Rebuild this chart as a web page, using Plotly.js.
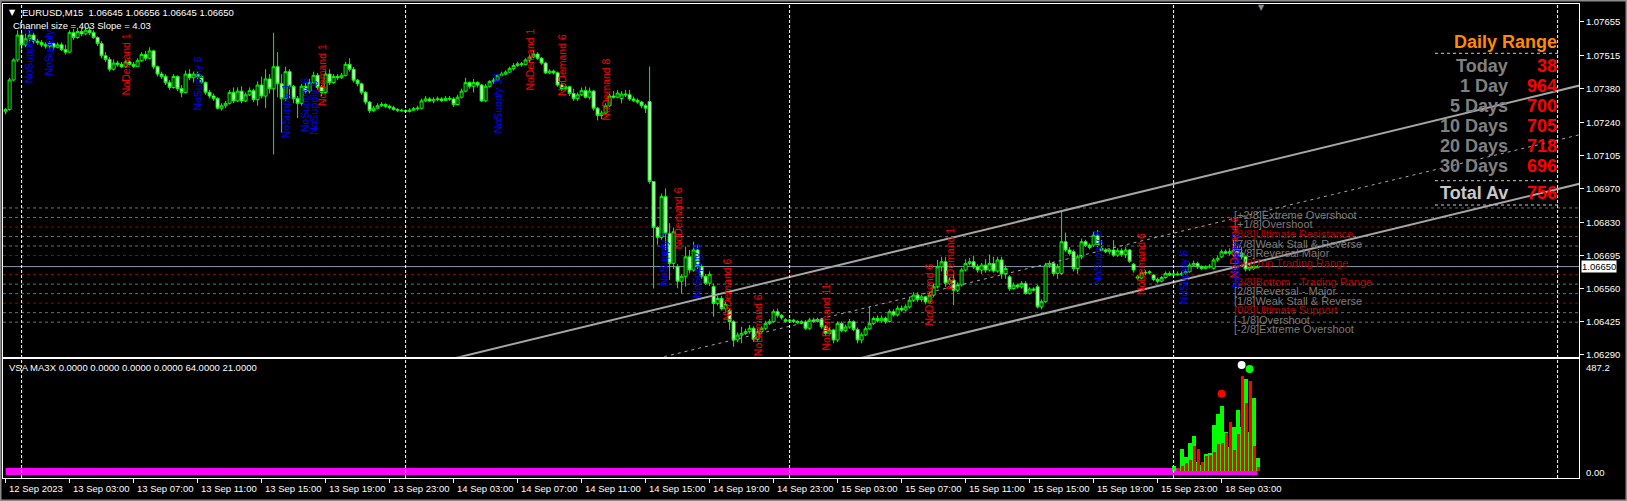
<!DOCTYPE html>
<html><head><meta charset="utf-8">
<script src="https://cdn.plot.ly/plotly-3.0.1.min.js"></script>
<style>html,body{margin:0;padding:0;background:#000;overflow:hidden}#chart{width:1627px;height:501px}</style>
</head><body><div id="chart"></div>
<script>
// ---------------- DATA ----------------
const symbolName = "EURUSD,M15";
const barOpen = [
1.07285,1.07295,1.07416,1.07498,1.07600,1.07560,1.07585,1.07600,1.07575,1.07570,
1.07560,1.07555,1.07565,1.07550,1.07560,1.07540,1.07530,1.07610,1.07590,1.07615,
1.07605,1.07620,1.07610,1.07590,1.07565,1.07515,1.07500,1.07460,1.07485,1.07480,
1.07470,1.07490,1.07480,1.07472,1.07495,1.07520,1.07505,1.07535,1.07470,1.07440,
1.07430,1.07405,1.07385,1.07430,1.07380,1.07365,1.07440,1.07425,1.07440,1.07430,
1.07405,1.07365,1.07350,1.07340,1.07300,1.07310,1.07320,1.07365,1.07330,1.07370,
1.07330,1.07355,1.07372,1.07335,1.07395,1.07350,1.07420,1.07380,1.07470,1.07400,
1.07340,1.07450,1.07390,1.07340,1.07320,1.07390,1.07370,1.07405,1.07435,1.07385,
1.07365,1.07440,1.07405,1.07430,1.07425,1.07435,1.07480,1.07460,1.07415,1.07400,
1.07365,1.07325,1.07290,1.07300,1.07310,1.07315,1.07308,1.07302,1.07295,1.07292,
1.07290,1.07287,1.07292,1.07298,1.07300,1.07330,1.07338,1.07330,1.07335,1.07338,
1.07332,1.07340,1.07338,1.07315,1.07345,1.07370,1.07405,1.07390,1.07405,1.07395,
1.07330,1.07390,1.07410,1.07415,1.07435,1.07440,1.07448,1.07462,1.07475,1.07482,
1.07480,1.07498,1.07510,1.07522,1.07505,1.07485,1.07445,1.07452,1.07445,1.07395,
1.07380,1.07388,1.07360,1.07340,1.07355,1.07372,1.07345,1.07370,1.07300,1.07270,
1.07280,1.07310,1.07350,1.07345,1.07340,1.07358,1.07355,1.07338,1.07332,1.07325,
1.07310,1.07327,1.06999,1.06810,1.06770,1.06937,1.06786,1.06663,1.06650,1.06590,
1.06610,1.06690,1.06636,1.06718,1.06650,1.06610,1.06582,1.06568,1.06499,1.06519,
1.06478,1.06471,1.06424,1.06349,1.06369,1.06376,1.06383,1.06397,1.06352,1.06383,
1.06397,1.06417,1.06424,1.06465,1.06450,1.06432,1.06426,1.06430,1.06425,1.06420,
1.06423,1.06397,1.06431,1.06425,1.06433,1.06404,1.06376,1.06390,1.06349,1.06417,
1.06388,1.06402,1.06424,1.06392,1.06349,1.06370,1.06395,1.06417,1.06437,1.06428,
1.06438,1.06425,1.06465,1.06452,1.06479,1.06472,1.06485,1.06512,1.06533,1.06515,
1.06526,1.06505,1.06533,1.06567,1.06649,1.06670,1.06581,1.06595,1.06553,1.06575,
1.06636,1.06663,1.06670,1.06649,1.06636,1.06656,1.06636,1.06663,1.06632,1.06677,
1.06620,1.06608,1.06560,1.06574,1.06567,1.06581,1.06540,1.06558,1.06567,1.06485,
1.06506,1.06656,1.06663,1.06622,1.06622,1.06752,1.06718,1.06711,1.06642,1.06690,
1.06752,1.06738,1.06738,1.06779,1.06725,1.06718,1.06711,1.06718,1.06697,1.06715,
1.06700,1.06718,1.06660,1.06608,1.06603,1.06625,1.06625,1.06615,1.06597,1.06590,
1.06605,1.06622,1.06615,1.06620,1.06617,1.06622,1.06629,1.06656,1.06663,1.06649,
1.06643,1.06649,1.06643,1.06677,1.06690,1.06711,1.06705,1.06697,1.06718,1.06706,
1.06690,1.06640,1.06650,1.06645];
const barHigh = [
1.07300,1.07425,1.07505,1.07620,1.07615,1.07605,1.07620,1.07610,1.07585,1.07580,
1.07570,1.07575,1.07570,1.07570,1.07570,1.07560,1.07620,1.07625,1.07630,1.07630,
1.07635,1.07635,1.07620,1.07595,1.07575,1.07530,1.07510,1.07500,1.07495,1.07490,
1.07500,1.07495,1.07490,1.07505,1.07530,1.07535,1.07550,1.07540,1.07475,1.07450,
1.07440,1.07415,1.07440,1.07435,1.07395,1.07455,1.07460,1.07450,1.07450,1.07440,
1.07410,1.07375,1.07360,1.07345,1.07320,1.07330,1.07375,1.07385,1.07385,1.07390,
1.07365,1.07385,1.07380,1.07410,1.07430,1.07460,1.07440,1.07610,1.07530,1.07440,
1.07470,1.07460,1.07395,1.07350,1.07400,1.07405,1.07420,1.07450,1.07445,1.07395,
1.07455,1.07460,1.07440,1.07440,1.07445,1.07490,1.07505,1.07470,1.07420,1.07405,
1.07370,1.07330,1.07310,1.07320,1.07325,1.07320,1.07315,1.07310,1.07300,1.07298,
1.07295,1.07300,1.07305,1.07310,1.07340,1.07350,1.07345,1.07345,1.07348,1.07345,
1.07350,1.07350,1.07345,1.07355,1.07380,1.07425,1.07410,1.07420,1.07410,1.07400,
1.07400,1.07415,1.07425,1.07440,1.07450,1.07455,1.07470,1.07485,1.07490,1.07490,
1.07505,1.07520,1.07535,1.07530,1.07510,1.07490,1.07460,1.07458,1.07450,1.07405,
1.07398,1.07392,1.07380,1.07365,1.07385,1.07390,1.07385,1.07375,1.07305,1.07290,
1.07320,1.07360,1.07370,1.07375,1.07370,1.07375,1.07375,1.07348,1.07340,1.07330,
1.07318,1.07471,1.07000,1.06815,1.06950,1.06971,1.06828,1.06810,1.06660,1.06620,
1.06732,1.06718,1.06752,1.06740,1.06660,1.06620,1.06630,1.06581,1.06530,1.06530,
1.06505,1.06480,1.06430,1.06380,1.06403,1.06395,1.06410,1.06405,1.06395,1.06405,
1.06428,1.06435,1.06475,1.06478,1.06455,1.06438,1.06436,1.06435,1.06430,1.06430,
1.06430,1.06440,1.06440,1.06440,1.06440,1.06410,1.06400,1.06395,1.06425,1.06425,
1.06412,1.06435,1.06430,1.06400,1.06380,1.06405,1.06485,1.06445,1.06450,1.06450,
1.06445,1.06475,1.06475,1.06490,1.06490,1.06495,1.06525,1.06545,1.06545,1.06535,
1.06530,1.06545,1.06580,1.06677,1.06690,1.06690,1.06605,1.06622,1.06585,1.06645,
1.06680,1.06685,1.06695,1.06660,1.06665,1.06680,1.06700,1.06690,1.06690,1.06690,
1.06655,1.06615,1.06585,1.06580,1.06590,1.06590,1.06565,1.06565,1.06575,1.06515,
1.06665,1.06675,1.06670,1.06660,1.06875,1.06790,1.06730,1.06720,1.06700,1.06765,
1.06760,1.06745,1.06793,1.06800,1.06759,1.06725,1.06725,1.06759,1.06725,1.06725,
1.06730,1.06722,1.06665,1.06615,1.06635,1.06635,1.06635,1.06620,1.06605,1.06612,
1.06630,1.06630,1.06628,1.06630,1.06630,1.06638,1.06665,1.06675,1.06670,1.06655,
1.06655,1.06660,1.06685,1.06695,1.06720,1.06720,1.06725,1.06760,1.06740,1.06730,
1.06695,1.06660,1.06655,1.06656];
const barLow = [
1.07275,1.07290,1.07410,1.07490,1.07540,1.07550,1.07570,1.07565,1.07560,1.07550,
1.07545,1.07545,1.07540,1.07545,1.07535,1.07520,1.07525,1.07580,1.07585,1.07595,
1.07600,1.07600,1.07585,1.07555,1.07505,1.07490,1.07450,1.07455,1.07470,1.07465,
1.07465,1.07475,1.07465,1.07470,1.07490,1.07495,1.07500,1.07460,1.07430,1.07420,
1.07395,1.07375,1.07380,1.07370,1.07345,1.07360,1.07415,1.07405,1.07420,1.07400,
1.07355,1.07340,1.07330,1.07295,1.07290,1.07300,1.07315,1.07320,1.07325,1.07320,
1.07325,1.07350,1.07325,1.07310,1.07340,1.07300,1.07360,1.07110,1.07345,1.07200,
1.07330,1.07340,1.07320,1.07260,1.07310,1.07360,1.07360,1.07400,1.07375,1.07350,
1.07360,1.07395,1.07400,1.07415,1.07420,1.07430,1.07450,1.07405,1.07390,1.07355,
1.07315,1.07280,1.07285,1.07295,1.07305,1.07300,1.07295,1.07290,1.07285,1.07285,
1.07280,1.07282,1.07288,1.07290,1.07295,1.07325,1.07325,1.07320,1.07328,1.07325,
1.07328,1.07330,1.07305,1.07312,1.07340,1.07365,1.07380,1.07365,1.07385,1.07325,
1.07325,1.07385,1.07400,1.07410,1.07430,1.07435,1.07445,1.07455,1.07470,1.07470,
1.07475,1.07490,1.07505,1.07498,1.07478,1.07440,1.07440,1.07438,1.07388,1.07370,
1.07375,1.07350,1.07330,1.07330,1.07350,1.07340,1.07335,1.07290,1.07250,1.07255,
1.07275,1.07305,1.07340,1.07340,1.07320,1.07345,1.07330,1.07325,1.07318,1.07300,
1.07280,1.06990,1.06560,1.06740,1.06760,1.06718,1.06595,1.06640,1.06561,1.06540,
1.06568,1.06622,1.06629,1.06640,1.06600,1.06575,1.06570,1.06444,1.06490,1.06470,
1.06465,1.06390,1.06321,1.06340,1.06335,1.06370,1.06375,1.06340,1.06345,1.06375,
1.06390,1.06410,1.06418,1.06440,1.06432,1.06420,1.06420,1.06418,1.06415,1.06415,
1.06390,1.06390,1.06420,1.06420,1.06395,1.06365,1.06370,1.06335,1.06340,1.06380,
1.06380,1.06395,1.06385,1.06335,1.06335,1.06365,1.06390,1.06410,1.06420,1.06420,
1.06415,1.06420,1.06445,1.06445,1.06465,1.06465,1.06478,1.06505,1.06505,1.06505,
1.06495,1.06500,1.06525,1.06560,1.06630,1.06567,1.06575,1.06492,1.06545,1.06568,
1.06630,1.06655,1.06640,1.06625,1.06620,1.06625,1.06630,1.06625,1.06625,1.06600,
1.06600,1.06550,1.06555,1.06560,1.06560,1.06535,1.06535,1.06548,1.06478,1.06475,
1.06500,1.06645,1.06610,1.06600,1.06615,1.06710,1.06695,1.06630,1.06620,1.06680,
1.06730,1.06720,1.06730,1.06730,1.06711,1.06705,1.06700,1.06690,1.06690,1.06690,
1.06685,1.06665,1.06625,1.06595,1.06598,1.06615,1.06618,1.06590,1.06582,1.06585,
1.06600,1.06610,1.06610,1.06612,1.06612,1.06618,1.06625,1.06650,1.06640,1.06636,
1.06638,1.06642,1.06638,1.06670,1.06685,1.06700,1.06695,1.06690,1.06700,1.06680,
1.06630,1.06632,1.06636,1.06645];
const barClose = [
1.07295,1.07416,1.07498,1.07600,1.07560,1.07585,1.07600,1.07575,1.07570,1.07560,
1.07555,1.07565,1.07550,1.07560,1.07540,1.07530,1.07610,1.07590,1.07615,1.07605,
1.07620,1.07610,1.07590,1.07565,1.07515,1.07500,1.07460,1.07485,1.07480,1.07470,
1.07490,1.07480,1.07472,1.07495,1.07520,1.07505,1.07535,1.07470,1.07440,1.07430,
1.07405,1.07385,1.07430,1.07380,1.07365,1.07440,1.07425,1.07440,1.07430,1.07405,
1.07365,1.07350,1.07340,1.07300,1.07310,1.07320,1.07365,1.07330,1.07370,1.07330,
1.07355,1.07372,1.07335,1.07395,1.07350,1.07420,1.07380,1.07470,1.07400,1.07340,
1.07450,1.07390,1.07340,1.07320,1.07390,1.07370,1.07405,1.07435,1.07385,1.07365,
1.07440,1.07405,1.07430,1.07425,1.07435,1.07480,1.07460,1.07415,1.07400,1.07365,
1.07325,1.07290,1.07300,1.07310,1.07315,1.07308,1.07302,1.07295,1.07292,1.07290,
1.07287,1.07292,1.07298,1.07300,1.07330,1.07338,1.07330,1.07335,1.07338,1.07332,
1.07340,1.07338,1.07315,1.07345,1.07370,1.07405,1.07390,1.07405,1.07395,1.07330,
1.07390,1.07410,1.07415,1.07435,1.07440,1.07448,1.07462,1.07475,1.07482,1.07480,
1.07498,1.07510,1.07522,1.07505,1.07485,1.07445,1.07452,1.07445,1.07395,1.07380,
1.07388,1.07360,1.07340,1.07355,1.07372,1.07345,1.07370,1.07300,1.07270,1.07280,
1.07310,1.07350,1.07345,1.07362,1.07358,1.07355,1.07338,1.07332,1.07325,1.07310,
1.07300,1.06999,1.06810,1.06770,1.06937,1.06786,1.06663,1.06793,1.06590,1.06610,
1.06690,1.06636,1.06718,1.06650,1.06610,1.06582,1.06618,1.06499,1.06519,1.06478,
1.06495,1.06424,1.06349,1.06369,1.06376,1.06383,1.06397,1.06352,1.06383,1.06397,
1.06417,1.06424,1.06465,1.06450,1.06440,1.06426,1.06430,1.06425,1.06420,1.06423,
1.06397,1.06431,1.06425,1.06433,1.06404,1.06376,1.06390,1.06349,1.06417,1.06388,
1.06402,1.06424,1.06392,1.06349,1.06370,1.06395,1.06417,1.06437,1.06428,1.06438,
1.06425,1.06465,1.06452,1.06479,1.06472,1.06485,1.06512,1.06533,1.06515,1.06526,
1.06505,1.06533,1.06567,1.06649,1.06670,1.06581,1.06595,1.06553,1.06575,1.06636,
1.06663,1.06670,1.06649,1.06636,1.06656,1.06636,1.06663,1.06632,1.06677,1.06620,
1.06642,1.06560,1.06574,1.06567,1.06581,1.06540,1.06558,1.06554,1.06485,1.06506,
1.06656,1.06663,1.06622,1.06649,1.06752,1.06718,1.06704,1.06642,1.06690,1.06752,
1.06738,1.06728,1.06779,1.06738,1.06718,1.06711,1.06718,1.06697,1.06715,1.06700,
1.06718,1.06672,1.06636,1.06603,1.06625,1.06625,1.06628,1.06597,1.06590,1.06605,
1.06622,1.06615,1.06620,1.06617,1.06622,1.06629,1.06656,1.06663,1.06649,1.06643,
1.06649,1.06651,1.06677,1.06684,1.06711,1.06705,1.06711,1.06718,1.06706,1.06690,
1.06640,1.06650,1.06642,1.06650];

// time axis
const tickBars = [0,16,32,48,64,80,96,112,128,144,160,176,192,208,224,240,256,272,288,304];
const tickLabels = ["12 Sep 2023","13 Sep 03:00","13 Sep 07:00","13 Sep 11:00","13 Sep 15:00","13 Sep 19:00","13 Sep 23:00","14 Sep 03:00","14 Sep 07:00","14 Sep 11:00","14 Sep 15:00","14 Sep 19:00","14 Sep 23:00","15 Sep 03:00","15 Sep 07:00","15 Sep 11:00","15 Sep 15:00","15 Sep 19:00","15 Sep 23:00","18 Sep 03:00"];
const daySeparatorBars = [4,100,196,292,388];

// price axis
const priceTicks = [1.07655,1.07515,1.07380,1.07240,1.07105,1.06970,1.06830,1.06695,1.06560,1.06425,1.06290];
const lastPrice = 1.06650;
const priceRange = [1.062802, 1.077276];

// Murrey math levels
const murreyLevels = [1.068906,1.068516,1.068125,1.067734,1.067344,1.066953,1.066172,1.065781,1.065391,1.065000,1.064609,1.064219];
const murreyLabels = ["[+2/8]Extreme Overshoot","[+1/8]Overshoot","[8/8]Ultimate Resistance","[7/8]Weak Stall &amp; Reverse","[6/8]Reversal Major","[5/8]Top Trading Range","[3/8]Bottom - Trading Range","[2/8]Reversal - Major","[1/8]Weak Stall &amp; Reverse","[0/8]Ultimate Support","[-1/8]Overshoot","[-2/8]Extreme Overshoot"];
const murreyKinds = ["gray","gray","red","gray","gray","red","red","gray","gray","red","gray","gray"];
const murreyLabelBar = 306.6;

// regression channel (size 403 points, slope 4.03)
const channelBars = [100, 400];
const channelUpper = [1.06225, 1.07419];
const channelMiddle = [1.06023, 1.07217];
const channelLower = [1.05822, 1.07016];
const channelSize = 403, channelSlope = 4.03;

// VSA text signals
const vsaBars   = [5.9,10.9,30.0,48.1,70.0,74.9,77.2,79.1,123.0,131.0,139.1,150.1,164.6,168.0,173.0,180.1,188.0,205.1,230.9,236.1,272.9,284.0,294.5,307.0,307.7];
const vsaPrices = [1.07514,1.07529,1.07479,1.07401,1.07286,1.07313,1.07303,1.07436,1.07319,1.07498,1.07477,1.07377,1.06683,1.06847,1.06630,1.06556,1.06408,1.06441,1.06536,1.06683,1.06687,1.06659,1.06605,1.06728,1.06677];
const vsaTexts  = ["NoSupply 6","NoSupply","NoDemand 1","NoSupply 6","NoSupply 1","NoSupply 6","NoSupply 6","NoDemand 1","NoSupply 32","NoDemand 1","NoDemand 6","NoDemand 8","NoSupply 1","NoDemand 6","NoSupply 6","NoDemand 6","NoDemand 6","NoDemand 11","NoDemand 6","NoDemand 1","NoSupply 8","NoDemand 6","NoSupply 6","NoDemand 6","NoSupply 7"];

// Daily range panel
const rangeLabels = ["Today","1 Day","5 Days","10 Days","20 Days","30 Days","Total Av"];
const rangeValues = [38,964,700,705,718,696,756];

// VSA sub-window
const volBars  = [292,293,294,295,296,297,298,299,300,301,302,303,304,305,306,307,308,309,310,311,312,313];
const volGreen = [24,0,98,63,124,155,41,30,76,81,203,251,286,172,108,194,269,194,400,172,321,59];
const volRed   = [0,14,25,37,50,111,98,41,68,72,85,120,124,168,216,94,164,413,299,391,111,20];
const maBars = [0, 313];
const maValues = [0, 0];
const dotBars = [304, 309, 311];
const dotValues = [338, 462, 445];
const dotColors = ["#ff0000", "#ffffff", "#00ff00"];
const subMax = 487.2;
const vsaHeader = "VSA MA3X 0.0000 0.0000 0.0000 0.0000 64.0000 21.0000";

// ---------------- LAYOUT HELPERS ----------------
const W = 1627, H = 501, PL = 3, PR = 1579, PT = 4, PB = 478;
const PX = x => (x - PL) / (PR - PL);
const PY = y => (PB - y) / (PB - PT);
const FONT = "Liberation Sans, Arial, sans-serif";
const n = barOpen.length;
const bars = Array.from({length: n}, (_, i) => i);

const traces = [];
traces.push({
  type: "candlestick", x: bars, open: barOpen, high: barHigh, low: barLow, close: barClose,
  xaxis: "x2", yaxis: "y", whiskerwidth: 0, hoverinfo: "skip",
  increasing: {line: {color: "#00ff00", width: 1}, fillcolor: "#000000"},
  decreasing: {line: {color: "#00ff00", width: 1}, fillcolor: "#ffffff"}
});
[[channelUpper, "solid", 2], [channelLower, "solid", 2], [channelMiddle, "3px,4px", 1]].forEach(([ys, dash, w]) => {
  traces.push({type: "scatter", mode: "lines", x: channelBars, y: ys, xaxis: "x2", yaxis: "y",
    line: {color: "#a6a6a6", width: w, dash: dash}, hoverinfo: "skip"});
});
traces.push({type: "bar", x: volBars, y: volGreen, width: 1, offset: -0.5, xaxis: "x", yaxis: "y2",
  marker: {color: "#00ff00", line: {width: 0}}, hoverinfo: "skip"});
traces.push({type: "bar", x: volBars, y: volRed, width: 0.75, offset: -0.25, xaxis: "x", yaxis: "y2",
  marker: {color: "#ff0000", line: {width: 0}}, hoverinfo: "skip"});
traces.push({type: "scatter", mode: "markers", x: dotBars, y: dotValues, xaxis: "x", yaxis: "y2",
  marker: {color: dotColors, size: 8, line: {width: 0}}, hoverinfo: "skip"});

const shapes = [];
murreyLevels.forEach((lv, k) => {
  shapes.push({type: "line", xref: "paper", yref: "y", x0: 0, x1: 1, y0: lv, y1: lv, layer: "below",
    line: {color: murreyKinds[k] === "red" ? "#9a0000" : "#6e6e6e", width: 1, dash: "3px,3px"}});
});
shapes.push({type: "line", xref: "paper", yref: "y", x0: 0, x1: 1, y0: lastPrice, y1: lastPrice, layer: "below",
  line: {color: "#8a97aa", width: 1}});
daySeparatorBars.forEach(b => {
  shapes.push({type: "line", xref: "x", yref: "paper", x0: b, x1: b, y0: 0, y1: 1,
    line: {color: "#ffffff", width: 1, dash: "3px,2px"}});
});
shapes.push({type: "line", xref: "x", yref: "y2", x0: maBars[0], x1: maBars[1], y0: maValues[0], y1: maValues[1],
  layer: "below", line: {color: "#ff00ff", width: 7}});
[53.3, 180.7, 205].forEach(y => {
  shapes.push({type: "line", xref: "paper", yref: "paper", x0: PX(1435), x1: PX(1558), y0: PY(y), y1: PY(y),
    line: {color: "#c8c8c8", width: 1, dash: "3px,3px"}});
});
shapes.push({type: "rect", xref: "paper", yref: "paper", x0: PX(0), x1: PX(W), y0: PY(H), y1: PY(0),
  line: {color: "#8c8c8c", width: 3}});

const ann = [];
// time labels
tickBars.forEach((b, k) => {
  ann.push({xref: "x", yref: "paper", x: b, y: PY(488.5), xanchor: "left", yanchor: "middle", xshift: 1,
    text: tickLabels[k], showarrow: false, font: {family: FONT, size: 9.5, color: "#ffffff"}});
});
// current price box
ann.push({xref: "paper", yref: "y", x: PX(1581), y: lastPrice, xanchor: "left", yanchor: "middle",
  text: lastPrice.toFixed(5), showarrow: false, bgcolor: "#ffffff", borderpad: 0,
  font: {family: FONT, size: 9.5, color: "#000000"}});
// sub window scale
ann.push({xref: "paper", yref: "paper", x: PX(1584), y: PY(367), xanchor: "left", yanchor: "middle",
  text: subMax.toFixed(1), showarrow: false, font: {family: FONT, size: 9.5, color: "#ffffff"}});
ann.push({xref: "paper", yref: "paper", x: PX(1584), y: PY(472), xanchor: "left", yanchor: "middle",
  text: maValues[0].toFixed(2), showarrow: false, font: {family: FONT, size: 9.5, color: "#ffffff"}});
// headers
const last = n - 1;
ann.push({xref: "paper", yref: "paper", x: PX(12), y: PY(12.5), xanchor: "center", yanchor: "middle",
  text: "▼", showarrow: false, font: {family: "DejaVu Sans", size: 8, color: "#ffffff"}});
ann.push({xref: "paper", yref: "paper", x: PX(20), y: PY(12.5), xanchor: "left", yanchor: "middle",
  text: symbolName + "  " + [barOpen[last], barHigh[last], barLow[last], barClose[last]].map(v => v.toFixed(5)).join(" "),
  showarrow: false, font: {family: FONT, size: 9.5, color: "#ffffff"}});
ann.push({xref: "paper", yref: "paper", x: PX(11), y: PY(25.5), xanchor: "left", yanchor: "middle",
  text: "Channel size = " + channelSize + " Slope = " + channelSlope.toFixed(2),
  showarrow: false, font: {family: FONT, size: 9.5, color: "#ffffff"}});
ann.push({xref: "paper", yref: "paper", x: PX(7), y: PY(367.5), xanchor: "left", yanchor: "middle",
  text: vsaHeader, showarrow: false, font: {family: FONT, size: 9.5, color: "#ffffff"}});
ann.push({xref: "paper", yref: "paper", x: PX(1261), y: PY(7), xanchor: "center", yanchor: "middle",
  text: "▼", showarrow: false, font: {family: "DejaVu Sans", size: 8, color: "#8c8c8c"}});
// murrey labels
murreyLevels.forEach((lv, k) => {
  ann.push({xref: "x2", yref: "y", x: murreyLabelBar, y: lv, xanchor: "left", yanchor: "top", yshift: 1,
    text: murreyLabels[k], showarrow: false,
    font: {family: FONT, size: 11, color: murreyKinds[k] === "red" ? "#b40000" : "#7c7c7c"}});
});
// VSA signals
vsaTexts.forEach((t, k) => {
  ann.push({xref: "x2", yref: "y", x: vsaBars[k], y: vsaPrices[k], xanchor: "center", yanchor: "middle",
    textangle: -90, text: t, showarrow: false,
    font: {family: FONT, size: 10.5, color: t.indexOf("NoSupply") === 0 ? "#0000ff" : "#ff0000"}});
});
// Daily range panel
ann.push({xref: "paper", yref: "paper", x: PX(1559), y: PY(41.7), xanchor: "right", yanchor: "middle",
  text: "<b>Daily Range</b>", showarrow: false, font: {family: FONT, size: 18, color: "#ff8c00"}});
const rowY = [66, 86, 106, 126, 146, 166, 192.7];
rangeLabels.forEach((lab, k) => {
  ann.push({xref: "paper", yref: "paper", x: PX(1510), y: PY(rowY[k]), xanchor: "right", yanchor: "middle",
    text: "<b>" + lab + "</b>", showarrow: false,
    font: {family: FONT, size: 18, color: k === rangeLabels.length - 1 ? "#c8c8c8" : "#808080"}});
  ann.push({xref: "paper", yref: "paper", x: PX(1559), y: PY(rowY[k]), xanchor: "right", yanchor: "middle",
    text: "<b>" + rangeValues[k] + "</b>", showarrow: false, font: {family: FONT, size: 18, color: "#ff0000"}});
});

const axCommon = {showgrid: false, zeroline: false, showline: true, mirror: true, linecolor: "#ffffff", linewidth: 1, fixedrange: true};
const layout = {
  width: W, height: H, margin: {l: PL, r: W - PR, t: PT, b: H - PB, pad: 0},
  paper_bgcolor: "#000000", plot_bgcolor: "#000000", showlegend: false,
  font: {family: FONT, size: 9.5, color: "#ffffff"},
  barmode: "overlay", bargap: 0, boxgap: 0.25, boxgroupgap: 0,
  xaxis: Object.assign({}, axCommon, {domain: [0, 1], anchor: "y2", range: [-0.65, 393.35],
    ticks: "outside", ticklen: 4, tickcolor: "#ffffff", tickvals: tickBars, showticklabels: false,
    rangeslider: {visible: false}}),
  xaxis2: Object.assign({}, axCommon, {domain: [0, 1], anchor: "y", matches: "x", ticks: "",
    showticklabels: false, rangeslider: {visible: false}}),
  yaxis: Object.assign({}, axCommon, {domain: [0.2559, 1], anchor: "x2", side: "right",
    range: priceRange, ticks: "outside", ticklen: 4, tickcolor: "#ffffff",
    tickvals: priceTicks, ticktext: priceTicks.map(v => v.toFixed(5)),
    tickfont: {family: FONT, size: 9.5, color: "#ffffff"}}),
  yaxis2: Object.assign({}, axCommon, {domain: [0, 0.2504], anchor: "x", side: "right",
    range: [-28.5, subMax], ticks: "", showticklabels: false}),
  shapes: shapes, annotations: ann
};
Plotly.newPlot("chart", traces, layout, {staticPlot: true, displayModeBar: false});
</script></body></html>
